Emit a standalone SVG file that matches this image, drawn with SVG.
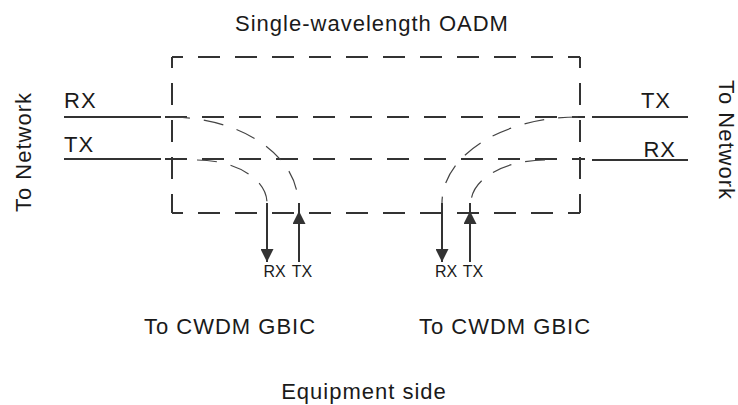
<svg xmlns="http://www.w3.org/2000/svg" width="738" height="405" viewBox="0 0 738 405">
<style>
text{font-family:"Liberation Sans",Arial,sans-serif;fill:#1a1a1a;}
.big{font-size:22px;letter-spacing:1px;}
.small{font-size:16px;}
.solid{stroke:#333;stroke-width:2;fill:none;}
.box{stroke:#333;stroke-width:2;fill:none;stroke-dasharray:22 15;stroke-dashoffset:11;}
.curve{stroke:#444;stroke-width:1.2;fill:none;stroke-dasharray:20 14;}
</style>
<defs>
<marker id="ah" viewBox="0 0 10 10" refX="10" refY="5" markerWidth="13" markerHeight="13" markerUnits="userSpaceOnUse" orient="auto">
<path d="M0,0 L10,5 L0,10 z" fill="#333"/>
</marker>
</defs>
<rect width="738" height="405" fill="#fff"/>
<g id="oadm">
<line class="box" x1="172" y1="57" x2="580" y2="57"/>
<line class="box" x1="172" y1="213" x2="580" y2="213"/>
<line class="box" x1="172" y1="57" x2="172" y2="213"/>
<line class="box" x1="580" y1="57" x2="580" y2="213"/>
<line class="box" x1="165" y1="117" x2="585" y2="117" style="stroke-dashoffset:0"/>
<line class="box" x1="165" y1="159" x2="585" y2="159" style="stroke-dashoffset:0"/>
<text class="big" x="372" y="31" text-anchor="middle">Single-wavelength OADM</text>
</g>
<g id="network-left">
<text class="big" transform="translate(31,152) rotate(-90)" text-anchor="middle">To Network</text>
<text class="big" x="64" y="108">RX</text>
<text class="big" x="64" y="152">TX</text>
</g>
<g id="network-right">
<text class="big" transform="translate(719,140) rotate(90)" text-anchor="middle">To Network</text>
<text class="big" x="671" y="108" text-anchor="end">TX</text>
<text class="big" x="676" y="157" text-anchor="end">RX</text>
</g>
<g id="gbic-left">
<text class="small" x="274.5" y="277" text-anchor="middle">RX</text>
<text class="small" x="302" y="277" text-anchor="middle">TX</text>
<text class="big" x="230" y="334" text-anchor="middle">To CWDM GBIC</text>
</g>
<g id="gbic-right">
<text class="small" x="446" y="277" text-anchor="middle">RX</text>
<text class="small" x="473" y="277" text-anchor="middle">TX</text>
<text class="big" x="505" y="334" text-anchor="middle">To CWDM GBIC</text>
</g>
<g id="equipment">
<text class="big" x="364" y="399" text-anchor="middle">Equipment side</text>
</g>
<g id="connectors">
<line class="solid" x1="64" y1="117" x2="161" y2="117"/>
<line class="solid" x1="64" y1="159" x2="161" y2="159"/>
<line class="solid" x1="592" y1="117" x2="688" y2="117"/>
<line class="solid" x1="592" y1="160" x2="688" y2="160"/>
<path class="curve" d="M170,117 A128,86 0 0 1 298,203"/>
<path class="curve" d="M197,160 A70,43 0 0 1 267,203"/>
<path class="curve" d="M578,117 A136,86 0 0 0 442,203"/>
<path class="curve" d="M545,160 A74,43 0 0 0 471,203"/>
<line class="solid" x1="267" y1="203" x2="267" y2="262" marker-end="url(#ah)"/>
<line class="solid" x1="299" y1="262" x2="299" y2="211" marker-end="url(#ah)"/>
<line class="solid" x1="299" y1="211" x2="299" y2="203"/>
<line class="solid" x1="442" y1="203" x2="442" y2="262" marker-end="url(#ah)"/>
<line class="solid" x1="470" y1="262" x2="470" y2="211" marker-end="url(#ah)"/>
<line class="solid" x1="470" y1="211" x2="470" y2="203"/>
</g>
</svg>
